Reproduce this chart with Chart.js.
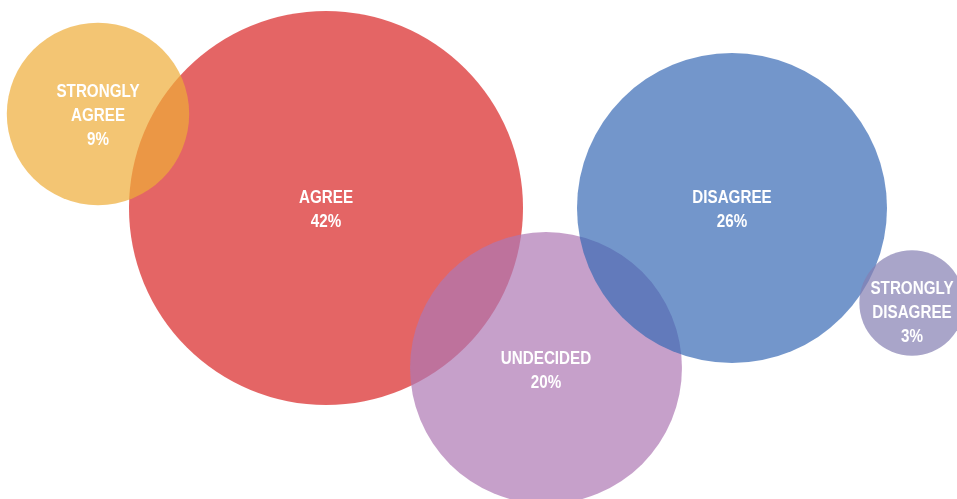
<!DOCTYPE html>
<html>
<head>
<meta charset="utf-8">
<script src="https://cdn.jsdelivr.net/npm/chart.js@4/dist/chart.umd.min.js"></script>
<style>
  html, body { margin: 0; padding: 0; background: #ffffff; }
  #wrap { width: 957px; height: 499px; position: relative; }
</style>
</head>
<body>
<div id="wrap"><canvas id="c"></canvas></div>
<script>
// ---- data ----
const categories = ['STRONGLY AGREE', 'AGREE', 'UNDECIDED', 'DISAGREE', 'STRONGLY DISAGREE'];
const percents   = [9, 42, 20, 26, 3];
// bubble centre positions (x, y values of the bubble chart)
const bubbleX = [98, 326, 546, 732, 912];
const bubbleY = [114, 208, 368, 208, 303];
const colors  = ['rgba(238,172,56,0.7)', 'rgba(216,36,36,0.7)', 'rgba(174,120,179,0.7)', 'rgba(55,105,181,0.7)', 'rgba(132,127,178,0.7)'];
const drawOrder = [2, 5, 4, 3, 1]; // higher = drawn further below

const RADIUS_PER_SQRT_PCT = 30.4;

const datasets = categories.map((cat, i) => ({
  label: cat,
  data: [{ x: bubbleX[i], y: bubbleY[i] }],
  backgroundColor: colors[i],
  borderWidth: 0,
  radius: RADIUS_PER_SQRT_PCT * Math.sqrt(percents[i]),
  hoverRadius: 0,
  order: drawOrder[i],
  clip: false
}));

const labelPlugin = {
  id: 'bubbleLabels',
  afterDatasetsDraw(chart) {
    const ctx = chart.ctx;
    ctx.save();
    ctx.fillStyle = '#ffffff';
    ctx.font = 'bold 19px "Liberation Sans", Arial, sans-serif';
    ctx.textAlign = 'center';
    ctx.textBaseline = 'middle';
    const lh = 24;
    const squeeze = 0.8;
    chart.data.datasets.forEach((ds, di) => {
      const meta = chart.getDatasetMeta(di);
      meta.data.forEach((el) => {
        const lines = ds.label.split(' ');
        lines.push(percents[di] + '%');
        const n = lines.length;
        const yOff = 2 + ((di === 4) ? 8 : (di === 2 ? 1 : 0));
        lines.forEach((t, k) => {
          ctx.save();
          ctx.translate(el.x, el.y + yOff + (k - (n - 1) / 2) * lh);
          ctx.scale(squeeze, 1);
          ctx.fillText(t, 0, 0);
          ctx.restore();
        });
      });
    });
    ctx.restore();
  }
};

new Chart(document.getElementById('c'), {
  type: 'bubble',
  data: { datasets },
  options: {
    responsive: true,
    maintainAspectRatio: false,
    animation: false,
    events: [],
    layout: { padding: 0, autoPadding: false },
    plugins: { legend: { display: false }, tooltip: { enabled: false } },
    scales: {
      x: { type: 'linear', min: 0, max: 957, display: false },
      y: { type: 'linear', min: 0, max: 499, reverse: true, display: false }
    }
  },
  plugins: [labelPlugin]
});
</script>
</body>
</html>
